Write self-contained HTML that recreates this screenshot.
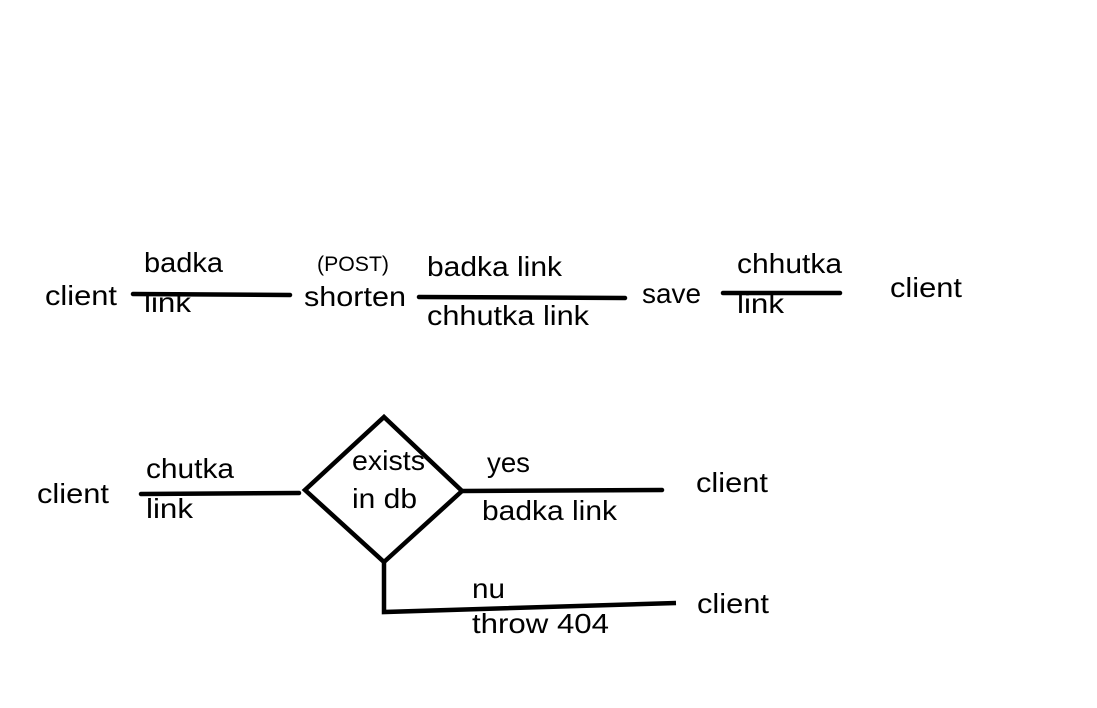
<!DOCTYPE html>
<html><head><meta charset="utf-8"><style>
html,body{margin:0;padding:0;background:#fff;}
svg{display:block;}
text{font-family:"Liberation Sans","DejaVu Sans",sans-serif;font-size:28px;fill:#000;}
</style></head><body>
<svg width="1097" height="708" viewBox="0 0 1097 708" xmlns="http://www.w3.org/2000/svg">
<g stroke="#000" stroke-width="4.5" stroke-linecap="round" fill="none">
<line x1="133" y1="294" x2="290" y2="295"/>
<line x1="419" y1="297" x2="625" y2="298"/>
<line x1="723" y1="293" x2="840" y2="293"/>
<line x1="141" y1="494" x2="299" y2="493"/>
<polygon points="384,417 462,491 384,562 305,490" stroke-linejoin="miter"/>
<line x1="462" y1="491" x2="662" y2="490"/>
<polyline points="384,562 384,612 676,603" stroke-linecap="butt"/>
</g>
<text x="45" y="305" textLength="72" lengthAdjust="spacingAndGlyphs">client</text>
<text x="144" y="272" textLength="79" lengthAdjust="spacingAndGlyphs">badka</text>
<text x="144" y="312" textLength="47" lengthAdjust="spacingAndGlyphs">link</text>
<text x="317" y="271" style="font-size:21px" textLength="72" lengthAdjust="spacingAndGlyphs">(POST)</text>
<text x="304" y="306" textLength="102" lengthAdjust="spacingAndGlyphs">shorten</text>
<text x="427" y="276" textLength="135" lengthAdjust="spacingAndGlyphs">badka link</text>
<text x="427" y="325" textLength="162" lengthAdjust="spacingAndGlyphs">chhutka link</text>
<text x="642" y="303" textLength="59" lengthAdjust="spacingAndGlyphs">save</text>
<text x="737" y="273" textLength="105" lengthAdjust="spacingAndGlyphs">chhutka</text>
<text x="737" y="313" textLength="47" lengthAdjust="spacingAndGlyphs">link</text>
<text x="890" y="297" textLength="72" lengthAdjust="spacingAndGlyphs">client</text>
<text x="37" y="503" textLength="72" lengthAdjust="spacingAndGlyphs">client</text>
<text x="146" y="478" textLength="88" lengthAdjust="spacingAndGlyphs">chutka</text>
<text x="146" y="518" textLength="47" lengthAdjust="spacingAndGlyphs">link</text>
<text x="352" y="470" textLength="73" lengthAdjust="spacingAndGlyphs">exists</text>
<text x="352" y="508" textLength="65" lengthAdjust="spacingAndGlyphs">in db</text>
<text x="487" y="472" textLength="43" lengthAdjust="spacingAndGlyphs">yes</text>
<text x="482" y="520" textLength="135" lengthAdjust="spacingAndGlyphs">badka link</text>
<text x="696" y="492" textLength="72" lengthAdjust="spacingAndGlyphs">client</text>
<text x="472" y="598" textLength="33" lengthAdjust="spacingAndGlyphs">nu</text>
<text x="472" y="633" textLength="137" lengthAdjust="spacingAndGlyphs">throw 404</text>
<text x="697" y="613" textLength="72" lengthAdjust="spacingAndGlyphs">client</text>
</svg>
</body></html>
